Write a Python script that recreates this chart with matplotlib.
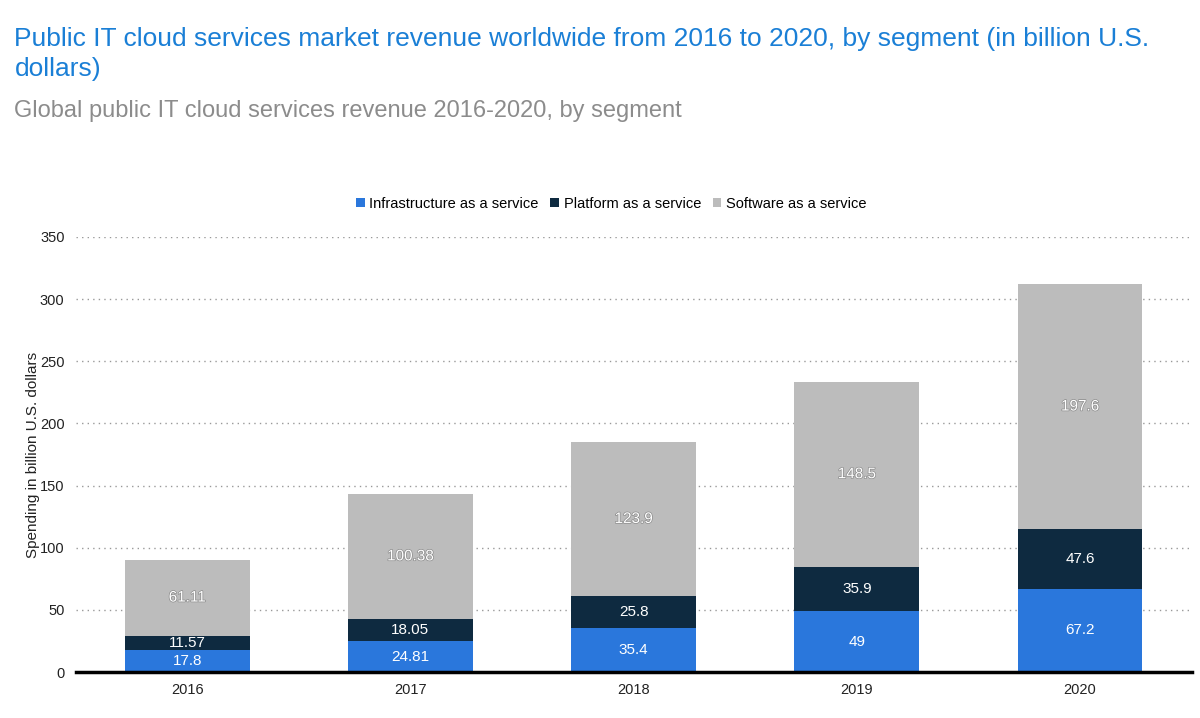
import matplotlib.pyplot as plt
import matplotlib.patheffects as pe
import numpy as np

plt.rcParams['font.family'] = ['Liberation Sans', 'DejaVu Sans']

# donnees
annees = ['2016', '2017', '2018', '2019', '2020']
iaas = [17.8, 24.81, 35.4, 49, 67.2]
paas = [11.57, 18.05, 25.8, 35.9, 47.6]
saas = [61.11, 100.38, 123.9, 148.5, 197.6]
iaas_txt = ['17.8', '24.81', '35.4', '49', '67.2']
paas_txt = ['11.57', '18.05', '25.8', '35.9', '47.6']
saas_txt = ['61.11', '100.38', '123.9', '148.5', '197.6']
segments = ['Infrastructure as a service', 'Platform as a service', 'Software as a service']
couleurs = ['#2a77dc', '#0e2a40', '#bcbcbc']

fig = plt.figure(figsize=(12, 7.18), dpi=100)
ax = fig.add_axes([0.063, 0.064, 0.93, 0.606])

x = np.arange(len(annees))
largeur = 0.56
iaas = np.array(iaas)
paas = np.array(paas)
saas = np.array(saas)

ax.bar(x, iaas, largeur, color=couleurs[0], label=segments[0], zorder=3)
ax.bar(x, paas, largeur, bottom=iaas, color=couleurs[1], label=segments[1], zorder=3)
ax.bar(x, saas, largeur, bottom=iaas + paas, color=couleurs[2], label=segments[2], zorder=3)

# etiquettes dans les barres
ombre = [pe.withStroke(linewidth=1.0, foreground='#8a8a8a')]
for i in range(len(annees)):
    ax.text(x[i], iaas[i] / 2, iaas_txt[i], ha='center', va='center', color='white', fontsize=11, zorder=4)
    ax.text(x[i], iaas[i] + paas[i] / 2, paas_txt[i], ha='center', va='center', color='white', fontsize=11, zorder=4)
    ax.text(x[i], iaas[i] + paas[i] + saas[i] / 2, saas_txt[i], ha='center', va='center', color='white',
            fontsize=11, zorder=4, path_effects=ombre)

ax.set_xlim(-0.5, 4.5)
ax.set_ylim(0, 350)
ax.set_yticks(range(0, 351, 50))
ax.set_xticks(x)
ax.set_xticklabels(annees)
ax.tick_params(axis='both', length=0, labelsize=10.5, colors='#222222', pad=8)
ax.grid(axis='y', linestyle=(0, (1, 3)), color='#999999', linewidth=1, zorder=0)
for cote in ['top', 'right', 'left']:
    ax.spines[cote].set_visible(False)
ax.spines['bottom'].set_linewidth(2.5)
ax.spines['bottom'].set_color('black')
ax.spines['bottom'].set_zorder(5)
ax.set_ylabel('Spending in billion U.S. dollars', fontsize=11, color='#222222', labelpad=0)

ax.legend(loc='lower center', bbox_to_anchor=(0.48, 1.03), ncol=3, frameon=False, fontsize=10.5,
          handlelength=0.6, handleheight=0.6, handletextpad=0.3, columnspacing=0.8)

fig.text(0.012, 0.962, 'Public IT cloud services market revenue worldwide from 2016 to 2020, by segment (in billion U.S.\ndollars)',
         fontsize=19, color='#1a7fd6', va='top', ha='left', linespacing=1.3)
fig.text(0.012, 0.845, 'Global public IT cloud services revenue 2016-2020, by segment',
         fontsize=17, color='#8c8c8c', va='center', ha='left')

plt.savefig('out.png', dpi=100)
